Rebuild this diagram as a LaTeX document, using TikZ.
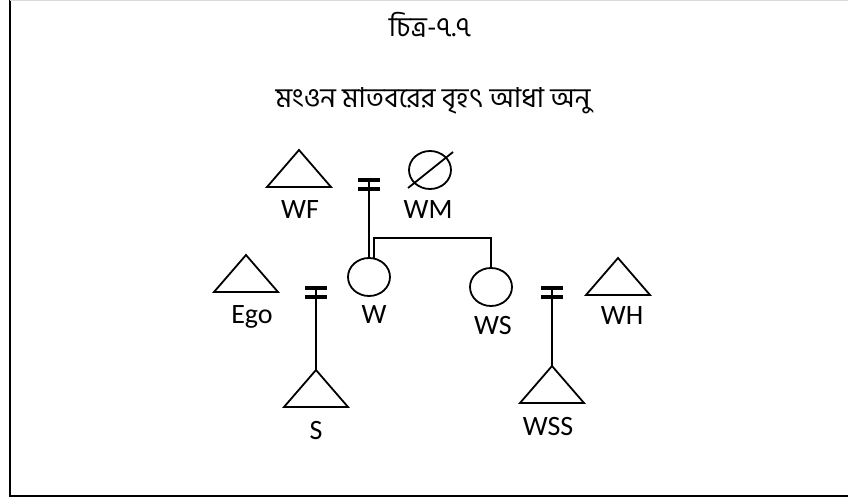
\documentclass[tikz,border=0pt]{standalone}
\usepackage{fontspec}
\setmainfont{Carlito}
\newfontfamily\bangla[Script=Bengali]{Hind Siliguri}
\usetikzlibrary{shapes.geometric,calc}

\tikzset{
  sym/.style={line width=1.8pt},
  female/.style={ellipse, draw, line width=1.8pt, minimum width=42pt, minimum height=38pt, inner sep=0pt},
  lbl/.style={anchor=base, inner sep=0pt, font=\fontsize{28}{30}\selectfont},
  heading/.style={anchor=base, inner sep=0pt, font=\bangla\fontsize{27.5}{30}\selectfont},
  tie/.style={line width=1.8pt},
  bar/.style={line width=3.4pt},
}

% a male symbol: triangle hanging from its named apex
\newcommand{\maletri}[1]{\draw[sym, line join=miter] (#1) -- ++(-32,37) -- ++(64,0) -- cycle;}
% the double stroke of a marriage line
\newcommand{\marriagebars}[1]{%
  \draw[bar] ($(#1)+(-11,2)$) -- ($(#1)+(11,2)$);
  \draw[bar] ($(#1)+(-11,11)$) -- ($(#1)+(11,11)$);}

\begin{document}
\begin{tikzpicture}[x=1pt, y=-1pt]
\useasboundingbox (0,0) rectangle (848,503);

% frame
\draw[line width=2pt] (10,-5) -- (10,496) -- (860,496);
\draw[line width=1pt, black!15] (10,0.5) -- (860,0.5);

% headings
\node[heading] (title) at (430,37) {চিত্র-৭.৭};
\node[heading] (subtitle) at (433,107) {মংওন মাতবরের বৃহৎ আধা অনু};

% apexes of the male symbols
\coordinate (WF) at (299,150);
\coordinate (Ego) at (246,255);
\coordinate (S) at (316,370);
\coordinate (WH) at (618,258);
\coordinate (WSS) at (552,366);
\maletri{WF}
\maletri{Ego}
\maletri{S}
\maletri{WH}
\maletri{WSS}

% female symbols
\node[female] (WM) at (430,170) {};
\draw[sym] (408,188) -- (453,152);
\node[female] (W) at (369,277) {};
\node[female] (WS) at (491,287) {};

% labels
\node[lbl] (lWF) at (300,218) {WF};
\node[lbl] (lWM) at (428,218) {WM};
\node[lbl] (lEgo) at (252,323) {Ego};
\node[lbl] (lW) at (374,323) {W};
\node[lbl] (lS) at (316,439) {S};
\node[lbl] (lWS) at (493,334) {WS};
\node[lbl] (lWH) at (622,324) {WH};
\node[lbl] (lWSS) at (548,435) {WSS};

% marriage lines with their descendants
\coordinate (m1) at (369,178);
\draw[tie] (m1) -- (W.north);
\marriagebars{m1}

\coordinate (m2) at (316,286);
\draw[tie] (m2) -- (S);
\marriagebars{m2}

\coordinate (m3) at (552,286);
\draw[tie] (m3) -- (WSS);
\marriagebars{m3}

% sibling line between W and WS
\coordinate (sb) at ($(W.north)+(5,1)$);
\draw[tie] (sb) |- (WS.north |- 0,238) -- (WS.north);
\end{tikzpicture}
\end{document}
